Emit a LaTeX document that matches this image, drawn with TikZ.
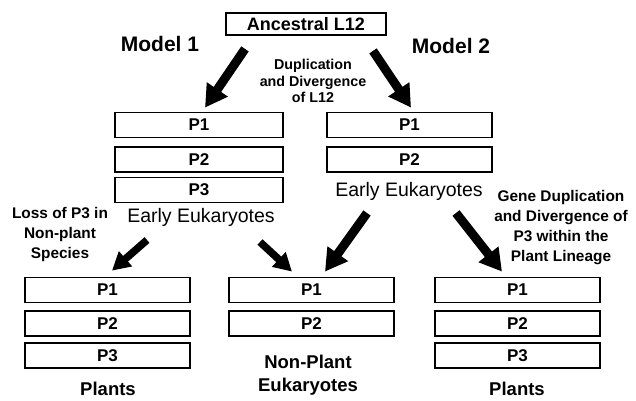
\documentclass[tikz,border=0pt]{standalone}
\usepackage{fontspec}
\setmainfont{Liberation Sans}
\usetikzlibrary{arrows.meta,positioning}

\begin{document}
\begin{tikzpicture}[
  x=1pt, y=-1pt,
  box/.style={draw, line width=1.8pt, minimum width=165pt, minimum height=25pt,
              inner sep=0pt, font=\fontsize{17}{17}\selectfont\bfseries},
  topbox/.style={box, minimum width=160pt, minimum height=22pt,
                 font=\fontsize{18}{18}\selectfont\bfseries},
  note/.style={align=center, font=\fontsize{14.3}{16.5}\selectfont\bfseries},
  bignote/.style={align=center, font=\fontsize{15.4}{20}\selectfont\bfseries},
  model/.style={font=\fontsize{21}{21}\selectfont\bfseries},
  stage/.style={align=center, font=\fontsize{19.5}{21}\selectfont},
  group/.style={align=center, font=\fontsize{18.5}{23}\selectfont\bfseries},
  fat/.style={line width=9pt, -{Triangle[width=24pt,length=22pt]}},
  slim/.style={line width=7.5pt, -{Triangle[width=19pt,length=18pt]}}
]
  \useasboundingbox (0,0) rectangle (636,400);

  % ancestor
  \node[topbox] (anc) at (306,24) {Ancestral L12};
  \node[model] (mod1) at (160,44) {Model 1};
  \node[model] (mod2) at (451,46) {Model 2};
  \node[note] (dup) at (313,81) {Duplication\\and Divergence\\of L12};

  % model 1: early eukaryotes with P1--P3
  \node[box, minimum width=168pt] (m1p1) at (199,125) {P1};
  \node[box, minimum width=168pt] (m1p2) at (199,159.5) {P2};
  \node[box, minimum width=168pt] (m1p3) at (199,190) {P3};
  \node[stage] (early1) at (201,217) {Early Eukaryotes};

  % model 2: early eukaryotes with P1--P2
  \node[box] (m2p1) at (409.5,125) {P1};
  \node[box] (m2p2) at (409.5,159.5) {P2};
  \node[stage] (early2) at (409,191) {Early Eukaryotes};

  \node[bignote] (loss) at (60,235) {Loss of P3 in\\Non-plant\\Species};
  \node[bignote] (gene) at (561,228) {Gene Duplication\\and Divergence of\\P3 within the\\Plant Lineage};

  % descendants
  \node[box] (pl1) at (107.5,290) {P1};
  \node[box] (pl2) at (107.5,323.5) {P2};
  \node[box] (pl3) at (107.5,355.5) {P3};
  \node[group] (plants1) at (108,388.5) {Plants};

  \node[box] (np1) at (311.5,290) {P1};
  \node[box] (np2) at (311.5,323.5) {P2};
  \node[group] (nonpl) at (308,375) {Non-Plant\\Eukaryotes};

  \node[box] (pr1) at (517.5,290) {P1};
  \node[box] (pr2) at (517.5,323.5) {P2};
  \node[box] (pr3) at (517.5,355.5) {P3};
  \node[group] (plants2) at (517,388.5) {Plants};

  % arrows
  \draw[fat] ([xshift=-61pt,yshift=-13pt]anc.south) -- ([xshift=6pt,yshift=4pt]m1p1.north);
  \draw[fat] ([xshift=67pt,yshift=-15pt]anc.south) -- ([xshift=1.5pt,yshift=4pt]m2p1.north);
  \draw[slim] ([xshift=-54pt,yshift=-23pt]early1.center) -- ([xshift=4.5pt,yshift=6pt]pl1.north);
  \draw[slim] ([xshift=59pt,yshift=-25pt]early1.center) -- ([xshift=-19.5pt,yshift=5pt]np1.north);
  \draw[fat] ([xshift=-42pt,yshift=-22pt]early2.center) -- ([xshift=13.5pt,yshift=5pt]np1.north);
  \draw[fat] ([xshift=47pt,yshift=-22pt]early2.center) -- ([xshift=-15.5pt,yshift=5pt]pr1.north);
\end{tikzpicture}
\end{document}
